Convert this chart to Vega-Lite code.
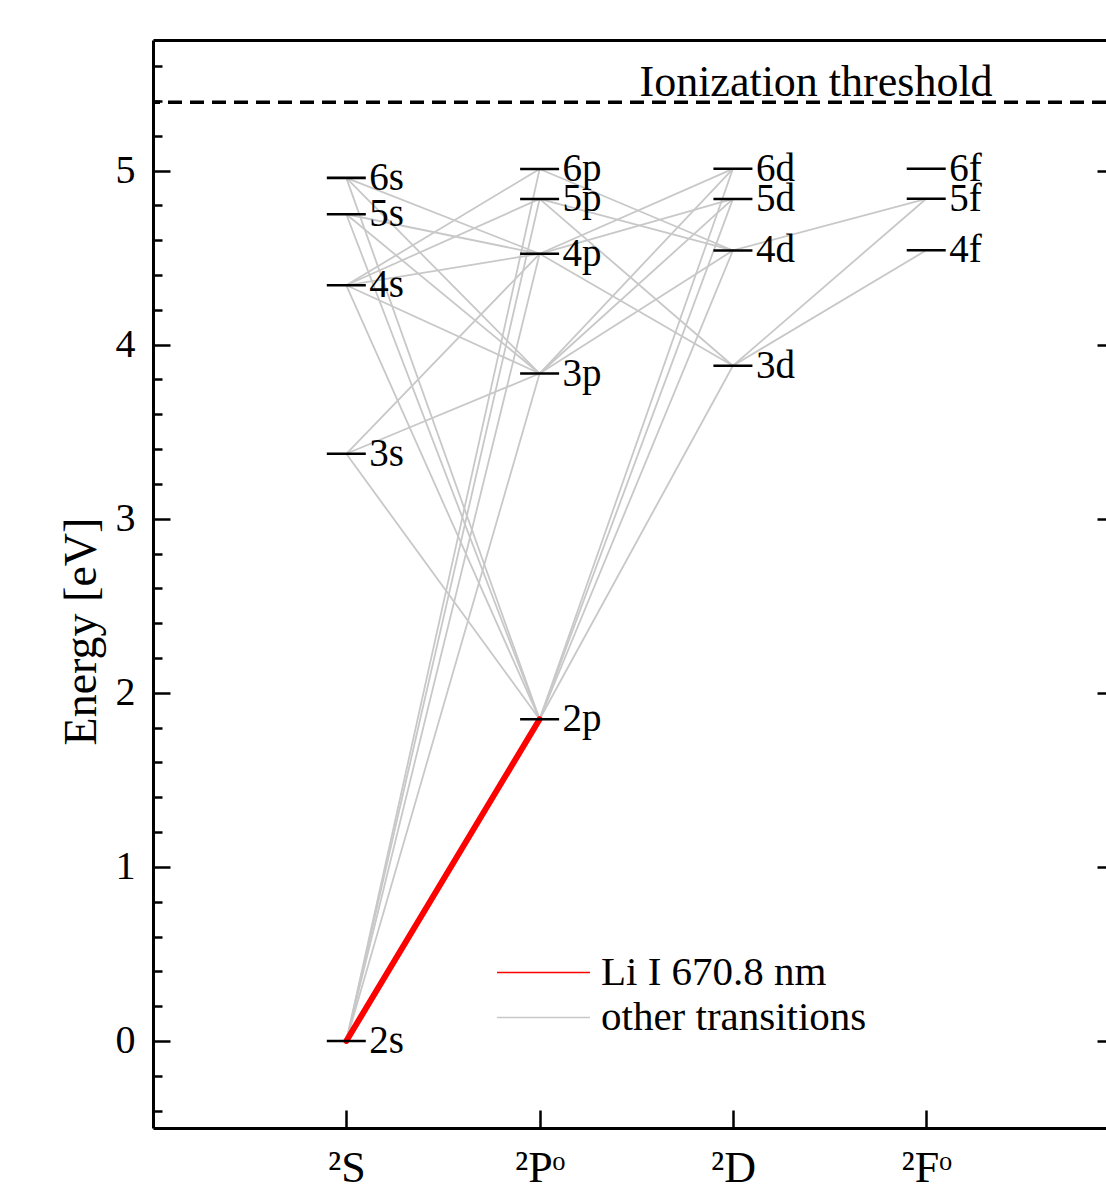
{
  "$schema": "https://vega.github.io/schema/vega-lite/v6.json",
  "autosize": {"type": "none"},
  "padding": {"left": 153, "top": 40, "right": 0, "bottom": 61},
  "width": 953,
  "height": 1088,
  "background": "white",
  "config": {
    "view": {"stroke": null},
    "font": "Liberation Serif",
    "axis": {
      "labelFont": "Liberation Serif",
      "titleFont": "Liberation Serif",
      "labelColor": "black",
      "titleColor": "black",
      "tickColor": "black",
      "domainColor": "black",
      "grid": false,
      "titleFontWeight": "normal"
    },
    "legend": {"labelFont": "Liberation Serif"}
  },
  "datasets": {
    "levels": [
      {"level": "2s", "x": 1, "E": 0},
      {"level": "3s", "x": 1, "E": 3.373},
      {"level": "4s", "x": 1, "E": 4.341},
      {"level": "5s", "x": 1, "E": 4.749},
      {"level": "6s", "x": 1, "E": 4.958},
      {"level": "2p", "x": 2, "E": 1.848},
      {"level": "3p", "x": 2, "E": 3.834},
      {"level": "4p", "x": 2, "E": 4.522},
      {"level": "5p", "x": 2, "E": 4.837},
      {"level": "6p", "x": 2, "E": 5.009},
      {"level": "3d", "x": 3, "E": 3.879},
      {"level": "4d", "x": 3, "E": 4.541},
      {"level": "5d", "x": 3, "E": 4.837},
      {"level": "6d", "x": 3, "E": 5.010},
      {"level": "4f", "x": 4, "E": 4.542},
      {"level": "5f", "x": 4, "E": 4.838},
      {"level": "6f", "x": 4, "E": 5.010}
    ],
    "transitions": [
      {"pair": "2s-3p", "x1": 1, "E1": 0, "x2": 2, "E2": 3.834, "kind": "other transitions"},
      {"pair": "2s-4p", "x1": 1, "E1": 0, "x2": 2, "E2": 4.522, "kind": "other transitions"},
      {"pair": "2s-5p", "x1": 1, "E1": 0, "x2": 2, "E2": 4.837, "kind": "other transitions"},
      {"pair": "2s-6p", "x1": 1, "E1": 0, "x2": 2, "E2": 5.009, "kind": "other transitions"},
      {"pair": "3s-2p", "x1": 1, "E1": 3.373, "x2": 2, "E2": 1.848, "kind": "other transitions"},
      {"pair": "4s-2p", "x1": 1, "E1": 4.341, "x2": 2, "E2": 1.848, "kind": "other transitions"},
      {"pair": "5s-2p", "x1": 1, "E1": 4.749, "x2": 2, "E2": 1.848, "kind": "other transitions"},
      {"pair": "6s-2p", "x1": 1, "E1": 4.958, "x2": 2, "E2": 1.848, "kind": "other transitions"},
      {"pair": "3s-3p", "x1": 1, "E1": 3.373, "x2": 2, "E2": 3.834, "kind": "other transitions"},
      {"pair": "3s-4p", "x1": 1, "E1": 3.373, "x2": 2, "E2": 4.522, "kind": "other transitions"},
      {"pair": "4s-3p", "x1": 1, "E1": 4.341, "x2": 2, "E2": 3.834, "kind": "other transitions"},
      {"pair": "4s-4p", "x1": 1, "E1": 4.341, "x2": 2, "E2": 4.522, "kind": "other transitions"},
      {"pair": "4s-5p", "x1": 1, "E1": 4.341, "x2": 2, "E2": 4.837, "kind": "other transitions"},
      {"pair": "4s-6p", "x1": 1, "E1": 4.341, "x2": 2, "E2": 5.009, "kind": "other transitions"},
      {"pair": "5s-3p", "x1": 1, "E1": 4.749, "x2": 2, "E2": 3.834, "kind": "other transitions"},
      {"pair": "5s-4p", "x1": 1, "E1": 4.749, "x2": 2, "E2": 4.522, "kind": "other transitions"},
      {"pair": "6s-3p", "x1": 1, "E1": 4.958, "x2": 2, "E2": 3.834, "kind": "other transitions"},
      {"pair": "6s-4p", "x1": 1, "E1": 4.958, "x2": 2, "E2": 4.522, "kind": "other transitions"},
      {"pair": "2p-3d", "x1": 2, "E1": 1.848, "x2": 3, "E2": 3.879, "kind": "other transitions"},
      {"pair": "2p-4d", "x1": 2, "E1": 1.848, "x2": 3, "E2": 4.541, "kind": "other transitions"},
      {"pair": "2p-5d", "x1": 2, "E1": 1.848, "x2": 3, "E2": 4.837, "kind": "other transitions"},
      {"pair": "2p-6d", "x1": 2, "E1": 1.848, "x2": 3, "E2": 5.010, "kind": "other transitions"},
      {"pair": "3p-4d", "x1": 2, "E1": 3.834, "x2": 3, "E2": 4.541, "kind": "other transitions"},
      {"pair": "3p-5d", "x1": 2, "E1": 3.834, "x2": 3, "E2": 4.837, "kind": "other transitions"},
      {"pair": "3p-6d", "x1": 2, "E1": 3.834, "x2": 3, "E2": 5.010, "kind": "other transitions"},
      {"pair": "3d-4p", "x1": 2, "E1": 4.522, "x2": 3, "E2": 3.879, "kind": "other transitions"},
      {"pair": "4p-5d", "x1": 2, "E1": 4.522, "x2": 3, "E2": 4.837, "kind": "other transitions"},
      {"pair": "4p-6d", "x1": 2, "E1": 4.522, "x2": 3, "E2": 5.010, "kind": "other transitions"},
      {"pair": "3d-5p", "x1": 2, "E1": 4.837, "x2": 3, "E2": 3.879, "kind": "other transitions"},
      {"pair": "4d-5p", "x1": 2, "E1": 4.837, "x2": 3, "E2": 4.541, "kind": "other transitions"},
      {"pair": "4d-6p", "x1": 2, "E1": 5.009, "x2": 3, "E2": 4.541, "kind": "other transitions"},
      {"pair": "3d-4f", "x1": 3, "E1": 3.879, "x2": 4, "E2": 4.542, "kind": "other transitions"},
      {"pair": "3d-5f", "x1": 3, "E1": 3.879, "x2": 4, "E2": 4.838, "kind": "other transitions"},
      {"pair": "4d-5f", "x1": 3, "E1": 4.541, "x2": 4, "E2": 4.838, "kind": "other transitions"},
      {"pair": "2s-2p", "x1": 1, "E1": 0, "x2": 2, "E2": 1.848, "kind": "Li I 670.8 nm"}
    ],
    "notes": [
      {"x": 3.43, "E": 5.392, "text": "Ionization threshold"}
    ]
  },
  "resolve": {"scale": {"x": "shared", "y": "shared"}, "axis": {"x": "independent", "y": "independent"}},
  "layer": [
    {
      "data": {"name": "transitions"},
      "mark": {"type": "rule", "strokeCap": "round"},
      "encoding": {
        "x": {
          "field": "x1", "type": "quantitative",
          "scale": {"domain": [0, 4.93], "nice": false, "zero": false},
          "axis": {
            "orient": "bottom", "values": [1, 2, 3, 4], "title": null,
            "labelExpr": "datum.value == 1 ? '²S' : datum.value == 2 ? '²Pᵒ' : datum.value == 3 ? '²D' : '²Fᵒ'",
            "labelFontSize": 44, "labelPadding": 36, "tickSize": -18, "tickWidth": 2.5,
            "domainWidth": 3, "labelBaseline": "top"
          }
        },
        "x2": {"field": "x2"},
        "y": {
          "field": "E1", "type": "quantitative",
          "scale": {"domain": [-0.5, 5.75], "nice": false, "zero": false},
          "axis": {
            "orient": "left", "title": "Energy [eV]",
            "values": [-0.4, -0.2, 0, 0.2, 0.4, 0.6, 0.8, 1, 1.2, 1.4, 1.6, 1.8, 2, 2.2, 2.4, 2.6, 2.8, 3, 3.2, 3.4, 3.6, 3.8, 4, 4.2, 4.4, 4.6, 4.8, 5, 5.2, 5.4, 5.6],
            "labelExpr": "abs(datum.value - round(datum.value)) < 0.01 ? format(datum.value, 'd') : ''",
            "tickSize": {"condition": {"test": "abs(datum.value - round(datum.value)) < 0.01", "value": -17}, "value": -9},
            "tickWidth": 2.5, "domainWidth": 3,
            "labelFontSize": 40, "labelPadding": 35,
            "titleFontSize": 46, "titleAngle": -90, "titleX": -58, "titleY": 591,
            "titleAlign": "center", "titleBaseline": "alphabetic"
          }
        },
        "y2": {"field": "E2"},
        "color": {
          "field": "kind", "type": "nominal",
          "scale": {"domain": ["Li I 670.8 nm", "other transitions"], "range": ["#ff0000", "#c8c8c8"]},
          "legend": {
            "title": null, "orient": "none", "legendX": 370, "legendY": 912,
            "symbolType": "M-3,0H3", "symbolSize": 961, "symbolStrokeWidth": 1.6,
            "labelFontSize": 41, "labelOffset": 37, "labelLimit": 500, "rowPadding": 3, "labelColor": "black"
          }
        },
        "strokeWidth": {
          "condition": {"test": "datum.kind === 'Li I 670.8 nm'", "value": 6},
          "value": 1.8
        }
      }
    },
    {
      "data": {"name": "levels"},
      "mark": {"type": "tick", "orient": "horizontal", "size": 39, "thickness": 2.6, "color": "black", "opacity": 1},
      "encoding": {
        "x": {
          "field": "x", "type": "quantitative",
          "scale": {"domain": [0, 4.93], "nice": false, "zero": false},
          "axis": {"orient": "top", "title": null, "labels": false, "ticks": false, "domainWidth": 3}
        },
        "y": {
          "field": "E", "type": "quantitative",
          "scale": {"domain": [-0.5, 5.75], "nice": false, "zero": false},
          "axis": {"orient": "right", "title": null, "labels": false, "domain": false, "values": [0, 1, 2, 3, 4, 5], "tickSize": -9, "tickWidth": 2.5}
        }
      }
    },
    {
      "data": {"name": "levels"},
      "mark": {"type": "text", "align": "left", "baseline": "middle", "dx": 23, "fontSize": 39, "font": "Liberation Serif", "color": "black"},
      "encoding": {
        "x": {"field": "x", "type": "quantitative", "axis": null},
        "y": {"field": "E", "type": "quantitative", "axis": null},
        "text": {"field": "level"}
      }
    },
    {
      "data": {"name": "notes"},
      "mark": {"type": "rule", "strokeDash": [14, 8], "strokeWidth": 3.5, "color": "black"},
      "encoding": {
        "y": {"field": "E", "type": "quantitative", "axis": null}
      }
    },
    {
      "data": {"name": "notes"},
      "mark": {"type": "text", "align": "center", "baseline": "alphabetic", "dy": -6, "fontSize": 44, "font": "Liberation Serif", "color": "black"},
      "encoding": {
        "x": {"field": "x", "type": "quantitative", "axis": null},
        "y": {"field": "E", "type": "quantitative", "axis": null},
        "text": {"field": "text"}
      }
    }
  ]
}
